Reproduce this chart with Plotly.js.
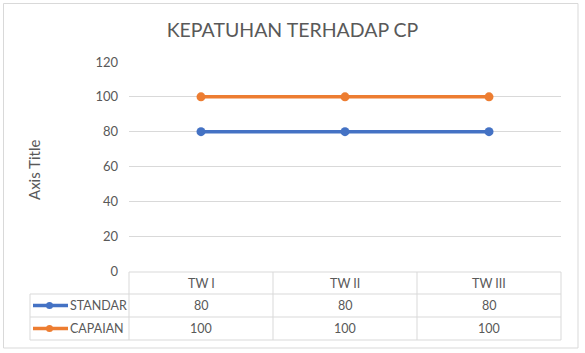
<!DOCTYPE html>
<html>
<head>
<meta charset="utf-8">
<script src="https://cdn.plot.ly/plotly-3.0.1.min.js"></script>
<style>html,body{margin:0;padding:0;background:#fff}#chart{width:585px;height:353px}</style>
</head>
<body>
<div id="chart"></div>
<script>
const categories = ["TW I", "TW II", "TW III"];
const seriesNames = ["STANDAR", "CAPAIAN"];
const standar = [80, 80, 80];
const capaian = [100, 100, 100];
const yTicks = [0, 20, 40, 60, 80, 100, 120];

const colors = ["#4472C4", "#ED7D31"];
const seriesValues = [standar, capaian];
const FONT = "Lato, 'Open Sans', sans-serif";
const GREY = "#595959";
const LINE = "#d9d9d9";

const W = 585, H = 353;
const M = {l: 129, r: 24, t: 62, b: 82};
const pw = W - M.l - M.r, ph = H - M.t - M.b;
const px = x => (x - M.l) / pw;
const py = y => (H - M.b - y) / ph;

const traces = seriesValues.map((vals, i) => ({
  type: "scatter", mode: "lines+markers", name: seriesNames[i],
  x: categories, y: vals,
  line: {color: colors[i], width: 3.5},
  marker: {color: colors[i], size: 9},
  showlegend: false, hoverinfo: "skip"
}));

const shapes = [];
const annotations = [];
const rowY = [272, 294, 317, 340];
const legendLeft = 30;
const nCat = categories.length;
const colX = c => M.l + c * pw / nCat;

shapes.push({type: "line", xref: "paper", yref: "paper", x0: 0, x1: 1, y0: py(rowY[0]), y1: py(rowY[0]), line: {color: LINE, width: 1}});
for (let r = 1; r < rowY.length; r++) {
  shapes.push({type: "line", xref: "paper", yref: "paper", x0: px(legendLeft), x1: 1, y0: py(rowY[r]), y1: py(rowY[r]), line: {color: LINE, width: 1}});
}
for (let c = 0; c <= nCat; c++) {
  shapes.push({type: "line", xref: "paper", yref: "paper", x0: px(colX(c)), x1: px(colX(c)), y0: py(rowY[0]), y1: py(rowY[3]), line: {color: LINE, width: 1}});
}
shapes.push({type: "line", xref: "paper", yref: "paper", x0: px(legendLeft), x1: px(legendLeft), y0: py(rowY[1]), y1: py(rowY[3]), line: {color: LINE, width: 1}});
shapes.push({type: "rect", xref: "paper", yref: "paper", x0: px(3.5), x1: px(578), y0: py(3.5), y1: py(348), line: {color: LINE, width: 1}, layer: "below"});

categories.forEach((c, i) => {
  annotations.push({xref: "paper", yref: "paper", x: px((colX(i) + colX(i + 1)) / 2), y: py((rowY[0] + rowY[1]) / 2),
    text: c, showarrow: false, xanchor: "center", yanchor: "middle", font: {family: FONT, size: 12.5, color: GREY}});
});
seriesValues.forEach((vals, s) => {
  const yc = (rowY[s + 1] + rowY[s + 2]) / 2;
  vals.forEach((v, i) => {
    annotations.push({xref: "paper", yref: "paper", x: px((colX(i) + colX(i + 1)) / 2), y: py(yc),
      text: String(v), showarrow: false, xanchor: "center", yanchor: "middle", font: {family: FONT, size: 12.5, color: GREY}});
  });
  shapes.push({type: "line", xref: "paper", yref: "paper", x0: px(33), x1: px(68), y0: py(yc), y1: py(yc), line: {color: colors[s], width: 3.5}});
  shapes.push({type: "circle", xref: "paper", yref: "paper", x0: px(46), x1: px(53), y0: py(yc - 3.5), y1: py(yc + 3.5), fillcolor: colors[s], line: {color: colors[s], width: 0}});
  annotations.push({xref: "paper", yref: "paper", x: px(68), y: py(yc),
    text: seriesNames[s], showarrow: false, xanchor: "left", yanchor: "middle", font: {family: FONT, size: 12.5, color: GREY}});
});
annotations.push({xref: "paper", yref: "paper", x: px(34), y: py(170), text: "Axis Title", textangle: -90, showarrow: false,
  xanchor: "center", yanchor: "middle", font: {family: FONT, size: 15, color: GREY}});

const layout = {
  width: W, height: H,
  margin: M,
  paper_bgcolor: "#fff", plot_bgcolor: "#fff",
  title: {text: "KEPATUHAN TERHADAP CP", x: 0.5, xanchor: "center", y: 1 - 30 / H, yanchor: "middle",
    font: {family: FONT, size: 19.5, color: GREY}},
  xaxis: {type: "category", range: [-0.5, nCat - 0.5], showgrid: false, showline: false, zeroline: false,
    showticklabels: false, ticks: "", fixedrange: true},
  yaxis: {range: [0, 120], tickvals: yTicks, showgrid: true, gridcolor: LINE, gridwidth: 1, zeroline: false,
    showline: false, ticks: "", tickfont: {family: FONT, size: 13, color: GREY}, ticklabelstandoff: 10, fixedrange: true},
  shapes: shapes,
  annotations: annotations,
  showlegend: false
};

Plotly.newPlot("chart", traces, layout, {displayModeBar: false, staticPlot: true});
</script>
</body>
</html>
